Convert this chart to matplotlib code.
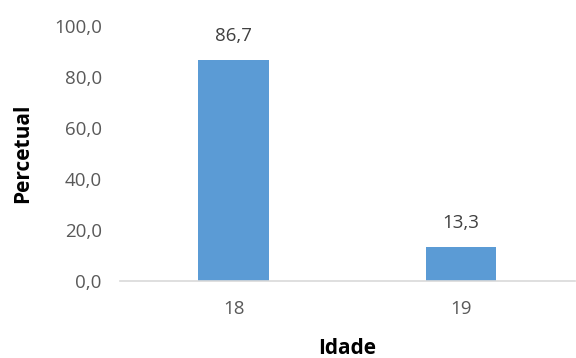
import numpy as np
import matplotlib.pyplot as plt

idades = ['18', '19']
percentual = [86.7, 13.3]
yticks = [0, 20, 40, 60, 80, 100]

plt.rcParams['font.family'] = ['Open Sans', 'DejaVu Sans']

fig = plt.figure(figsize=(5.76, 3.58), dpi=100)
ax = fig.add_axes([0.208, 0.215, 0.79, 0.712])

x = np.arange(len(idades))
bars = ax.bar(x, percentual, width=0.31, color='#5B9BD5')

for b, v in zip(bars, percentual):
    ax.text(b.get_x() + b.get_width() / 2, v + 6, '{:.1f}'.format(v).replace('.', ','),
            ha='center', va='bottom', fontsize=13.5, color='#404040')

ax.set_xlim(-0.5, 1.5)
ax.set_ylim(0, 100)
ax.set_yticks(yticks)
ax.set_yticklabels(['{:.1f}'.format(t).replace('.', ',') for t in yticks])
ax.set_xticks(x)
ax.set_xticklabels(idades)

for s in ['top', 'right', 'left']:
    ax.spines[s].set_visible(False)
ax.spines['bottom'].set_color('#d9d9d9')
ax.spines['bottom'].set_linewidth(1.2)
ax.tick_params(axis='both', length=0, labelsize=13.5, colors='#595959')
ax.tick_params(axis='y', pad=13)
ax.tick_params(axis='x', pad=14)

ax.set_ylabel('Percetual', fontsize=15, fontweight='bold', color='black', labelpad=15)
ax.set_xlabel('Idade', fontsize=15, fontweight='bold', color='black', labelpad=14)

fig.savefig('out.png', dpi=100)
